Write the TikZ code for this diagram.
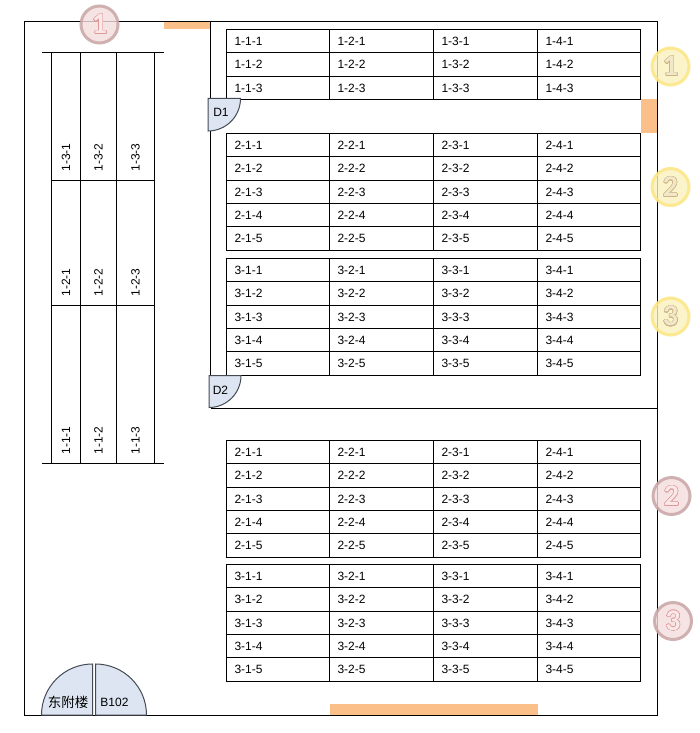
\documentclass[tikz,border=0pt]{standalone}
\usepackage{fontspec}
\setmainfont{Liberation Sans}
\newfontfamily\cjk{Noto Sans CJK SC}
\newfontfamily\badgefont{Carlito}
\usepackage[copies]{contour}
\contourlength{0.5pt}
\definecolor{DoorBlue}{RGB}{220,229,241}
\definecolor{DoorEdge}{RGB}{70,74,84}
\definecolor{Exit}{RGB}{251,192,138}
\definecolor{SunFill}{RGB}{250,242,190}
\definecolor{SunRing}{RGB}{253,230,130}
\definecolor{SunText}{RGB}{240,232,200}
\definecolor{SunEdge}{RGB}{205,180,135}
\definecolor{RoseFill}{RGB}{244,222,222}
\definecolor{RoseRing}{RGB}{200,165,165}
\definecolor{RoseText}{RGB}{248,232,232}
\definecolor{RoseEdge}{RGB}{226,150,150}
\usetikzlibrary{positioning}

\begin{document}
\begin{tikzpicture}[x=1pt,y=-1pt,line width=1pt,
  cellbox/.style={draw,anchor=north west,outer sep=0pt,inner xsep=8pt,inner ysep=0pt,align=left,font=\fontsize{12}{14}\selectfont},
  rackbox/.style={draw,rotate=90,outer sep=0pt,inner xsep=9pt,inner ysep=0pt,align=left,font=\fontsize{12}{14}\selectfont},
  doorleaf/.style={draw=DoorEdge,fill=DoorBlue},
  doorname/.style={font=\fontsize{12}{14}\selectfont,inner sep=0pt},
  sunbadge/.style={circle,draw=SunRing,fill=SunFill,draw opacity=.85,fill opacity=.8,text opacity=1,line width=3pt,minimum size=37pt,inner sep=0pt,font=\badgefont\bfseries\fontsize{30}{30}\selectfont},
  rosebadge/.style={circle,draw=RoseRing,fill=RoseFill,draw opacity=.85,fill opacity=.8,text opacity=1,line width=3pt,minimum size=37pt,inner sep=0pt,font=\badgefont\bfseries\fontsize{30}{30}\selectfont}]
  \useasboundingbox (0,0) rectangle (699,733);
  \fill[white] (0,0) rectangle (699,733);
  \fill[Exit] (164,21.5) rectangle (210.5,29);
  \fill[Exit] (640.5,99) rectangle (657.5,133);
  \fill[Exit] (330,704) rectangle (538,715);
  \draw (24.5,21.5) rectangle (657.5,715);
  \draw (210.5,21.5) -- (210.5,99);
  \draw (210.5,131) -- (210.5,376);
  \draw (211,408.5) -- (657.5,408.5);
  \draw (640.5,99) -- (640.5,29);
  \draw (226.5,99.5) -- (640.5,99.5);
  \draw (42,52.5) -- (164,52.5);
  \draw (42,463.5) -- (164,463.5);
  \foreach \tname/\sec/\rowlist in {
    a/1/{1/29.5/23,2/52.5/24,3/76.5/23},
    b/2/{1/133.5/23,2/156.5/24,3/180.5/23,4/203.5/23,5/226.5/24},
    c/3/{1/258.5/23,2/281.5/24,3/305.5/23,4/328.5/23,5/351.5/24},
    d/2/{1/440.5/23,2/463.5/24,3/487.5/23,4/510.5/23,5/533.5/24},
    e/3/{1/564.5/23,2/587.5/24,3/611.5/23,4/634.5/23,5/657.5/24}} {
    \foreach \r/\y/\h in \rowlist {
      \foreach \c/\x/\w in {1/226.5/103,2/329.5/104,3/433.5/104,4/537.5/103} {
        \pgfmathsetmacro{\tw}{\w-16}
        \node[cellbox,minimum height=\h pt,text width=\tw pt] (\tname-\c-\r) at (\x,\y) {\sec-\c-\r};
      }
    }
  }
  \foreach \r/\y/\h in {3/52.5/128,2/180.5/125,1/305.5/158} {
    \foreach \c/\x/\w in {1/51.5/29,2/80.5/36,3/116.5/38} {
      \pgfmathsetmacro{\tw}{\h-18}
      \node[rackbox,minimum height=\w pt,text width=\tw pt] (rack-\r-\c) at (\x+\w/2,\y+\h/2) {1-\r-\c};
    }
  }
  \draw[doorleaf] (208,98.5) -- (240.5,98.5) arc (0:90:32.5) -- cycle;
  \node[doorname] (d1) at (221,112) {D1};
  \draw[doorleaf] (209,375.5) -- (241,375.5) arc (0:90:32) -- cycle;
  \node[doorname] (d2) at (220.5,390) {D2};
  \draw[doorleaf] (92.5,715) -- (41.5,715) arc (180:270:51) -- cycle;
  \node[font=\cjk\fontsize{13.5}{14}\selectfont,inner sep=0pt] (eastwing) at (68,702) {东附楼};
  \draw[doorleaf] (95.5,715) -- (146.5,715) arc (0:-90:51) -- cycle;
  \node[doorname] (b102) at (114.5,702) {B102};
  \node[rosebadge] (rose1) at (99.5,24.5) {\contour{RoseEdge}{\textcolor{RoseText}{1}}};
  \node[sunbadge] (sun1) at (670.5,66.5) {\contour{SunEdge}{\textcolor{SunText}{1}}};
  \node[sunbadge] (sun2) at (670.5,187) {\contour{SunEdge}{\textcolor{SunText}{2}}};
  \node[sunbadge] (sun3) at (670.5,316.5) {\contour{SunEdge}{\textcolor{SunText}{3}}};
  \node[rosebadge] (rose2) at (671.5,496) {\contour{RoseEdge}{\textcolor{RoseText}{2}}};
  \node[rosebadge] (rose3) at (673,621) {\contour{RoseEdge}{\textcolor{RoseText}{3}}};
\end{tikzpicture}
\end{document}
